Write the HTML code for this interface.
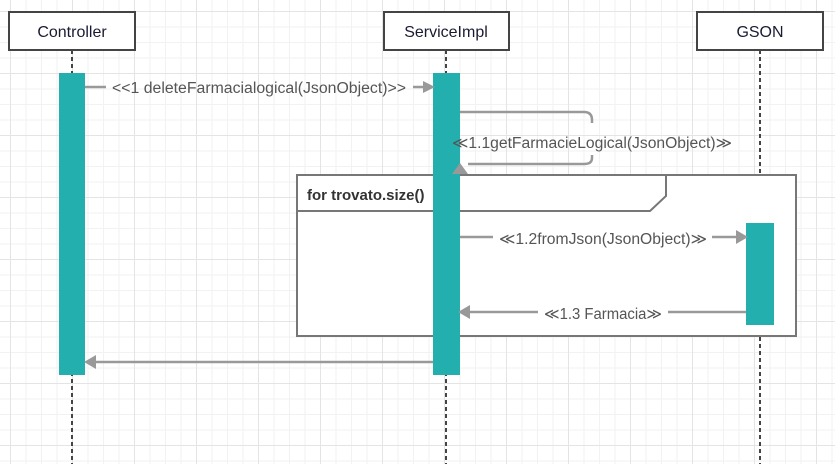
<!DOCTYPE html>
<html><head><style>
html,body{margin:0;padding:0;}
body{width:835px;height:464px;overflow:hidden;background:#fff;
background-image:linear-gradient(#e4e4e4 1px,transparent 1px),linear-gradient(90deg,#e4e4e4 1px,transparent 1px),linear-gradient(#f2f2f2 1px,transparent 1px),linear-gradient(90deg,#f2f2f2 1px,transparent 1px);
background-size:62px 62px,62px 62px,15.5px 15.5px,15.5px 15.5px;background-position:0 11px,10px 0,0 11px,10px 0;}
svg{position:absolute;left:0;top:0;}
text{font-family:"Liberation Sans",sans-serif;}
</style></head><body>
<svg width="835" height="464" xmlns="http://www.w3.org/2000/svg">
<g stroke="#444" stroke-width="2" stroke-dasharray="4,3">
<line x1="72" y1="50" x2="72" y2="464"/>
<line x1="446" y1="50" x2="446" y2="464"/>
<line x1="760" y1="50" x2="760" y2="464"/>
</g>
<g fill="#fff" stroke="#444" stroke-width="2">
<rect x="9" y="12" width="126" height="38"/>
<rect x="384" y="12" width="125" height="38"/>
<rect x="697" y="12" width="126" height="38"/>
</g>
<g font-size="16" fill="#1a1a33" text-anchor="middle">
<text x="72" y="37">Controller</text>
<text x="446" y="37">ServiceImpl</text>
<text x="760" y="37">GSON</text>
</g>
<rect x="297" y="175" width="499" height="161" fill="#fff" stroke="#777" stroke-width="2"/>
<polyline points="297,211 650,211 666,196 666,175" fill="none" stroke="#777" stroke-width="2"/>
<text x="307" y="200" font-size="15" font-weight="bold" fill="#333">for trovato.size()</text>
<rect x="59" y="73" width="26" height="302" fill="#22afae"/>
<rect x="433" y="73" width="27" height="302" fill="#22afae"/>
<rect x="746" y="223" width="28" height="102" fill="#22afae"/>
<g stroke="#999" stroke-width="2.5" fill="none">
<line x1="85" y1="87" x2="106" y2="87"/>
<line x1="413" y1="87" x2="425" y2="87"/>
<path d="M460 112 H584 Q592 112 592 120 V123"/>
<path d="M592 155 V158 Q592 164 584 164 H468"/>
<line x1="460" y1="237" x2="493" y2="237"/>
<line x1="712" y1="237" x2="738" y2="237"/>
<line x1="668" y1="312" x2="746" y2="312"/>
<line x1="468" y1="312" x2="538" y2="312"/>
<line x1="433" y1="362" x2="93" y2="362"/>
</g>
<g fill="#999">
<polygon points="435,87 423,81 423,93"/>
<polygon points="460,163 452,174 468,174"/>
<polygon points="748,237 736,230 736,244"/>
<polygon points="458,312 470,305 470,319"/>
<polygon points="84,362 96,355 96,369"/>
</g>
<g font-size="15.5" fill="#555" text-anchor="middle">
<text x="259" y="93" textLength="294" lengthAdjust="spacingAndGlyphs">&lt;&lt;1 deleteFarmacialogical(JsonObject)&gt;&gt;</text>
<text x="592" y="148" textLength="280" lengthAdjust="spacingAndGlyphs">≪1.1getFarmacieLogical(JsonObject)≫</text>
<text x="603" y="244" textLength="208" lengthAdjust="spacingAndGlyphs">≪1.2fromJson(JsonObject)≫</text>
<text x="603" y="319" textLength="118" lengthAdjust="spacingAndGlyphs">≪1.3 Farmacia≫</text>
</g>
</svg>
</body></html>
